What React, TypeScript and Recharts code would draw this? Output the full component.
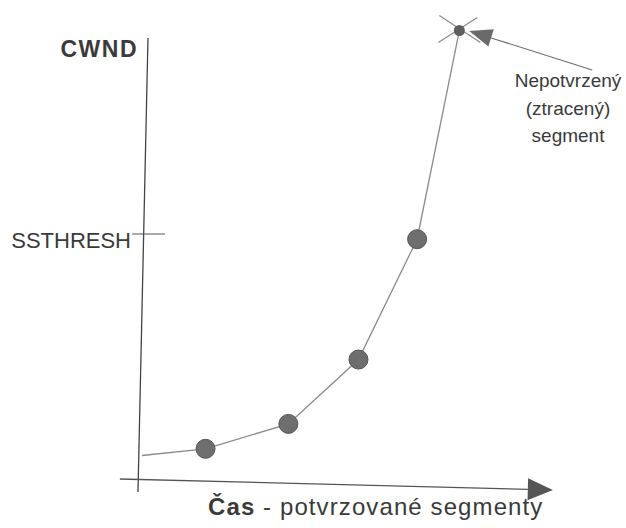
import { ComposedChart, Line, XAxis, YAxis, ReferenceLine } from 'recharts'

// congestion window during slow start (units are arbitrary)
const time = [-0.8, 15.5, 35.7, 52.8, 67.1, 77.4]
const cwnd = [6.2, 7.7, 13.0, 26.7, 52.3, 96.7]
const marks = ['start', 'ack', 'ack', 'ack', 'ack', 'lost']

const ssthresh = 53.4
const lostNote = ['Nepotvrzený', '(ztracený)', 'segment']

const data = time.map((t, i) => ({ t, cwnd: cwnd[i], mark: marks[i] }))

const ink = '#3a3a3a'
const font = '"Liberation Sans", Arial, sans-serif'

function arrow(len: number, half: number, color: string, width: number) {
  return (p: any) => {
    const { x1, y1, x2, y2 } = p
    const dx = x2 - x1
    const dy = y2 - y1
    const d = Math.hypot(dx, dy) || 1
    const ux = dx / d
    const uy = dy / d
    const bx = x2 - ux * len
    const by = y2 - uy * len
    const pts = `${x2},${y2} ${bx - uy * half},${by + ux * half} ${bx + uy * half},${by - ux * half}`
    return (
      <g>
        <line x1={x1} y1={y1} x2={bx} y2={by} stroke={color} strokeWidth={width} />
        <polygon points={pts} fill={color} />
      </g>
    )
  }
}

function renderDot(props: any) {
  const { cx, cy, payload, index } = props
  if (payload.mark === 'ack') {
    return <circle key={index} cx={cx} cy={cy} r={9.5} fill="#6e6e6e" stroke="#555" strokeWidth={1} />
  }
  if (payload.mark === 'lost') {
    return (
      <g key={index}>
        <line x1={cx - 20} y1={cy - 15} x2={cx + 21} y2={cy + 12} stroke="#8a8a8a" strokeWidth={1.2} />
        <line x1={cx - 21} y1={cy + 12} x2={cx + 18} y2={cy - 13} stroke="#8a8a8a" strokeWidth={1.2} />
        <circle cx={cx} cy={cy} r={5.5} fill="#5e5e5e" />
      </g>
    )
  }
  return <g key={index} />
}

export default function App() {
  return (
    <div style={{ position: 'absolute', left: 0, top: 0, background: '#fff' }}>
      <ComposedChart
        width={626}
        height={528}
        data={data}
        margin={{ top: 15, right: 74, bottom: 43, left: 142 }}
      >
        <XAxis type="number" dataKey="t" domain={[0, 100]} allowDataOverflow hide />
        <YAxis type="number" domain={[0, 100]} allowDataOverflow hide />

        {/* hand drawn axes */}
        <ReferenceLine
          segment={[{ x: 1.46, y: 95.1 }, { x: -0.98, y: -1.5 }]}
          stroke="#444"
          strokeWidth={1.3}
          ifOverflow="visible"
        />
        <ReferenceLine
          segment={[{ x: -5.4, y: 1.28 }, { x: 100.2, y: -1.06 }]}
          ifOverflow="visible"
          shape={arrow(25, 11, '#555', 1.3)}
        />
        <ReferenceLine
          segment={[{ x: -2.4, y: ssthresh }, { x: 5.6, y: ssthresh }]}
          stroke="#555"
          strokeWidth={1.2}
          ifOverflow="visible"
        />
        <ReferenceLine
          segment={[{ x: 109.8, y: 88.3 }, { x: 79.8, y: 96.6 }]}
          ifOverflow="visible"
          shape={arrow(23, 9, '#6a6a6a', 1.1)}
        />

        <Line
          type="linear"
          dataKey="cwnd"
          stroke="#8a8a8a"
          strokeWidth={1.3}
          dot={renderDot}
          activeDot={false}
          isAnimationActive={false}
        />

        <text x={138} y={57} textAnchor="end" fontFamily={font} fontSize={23} fontWeight="bold" fill={ink} letterSpacing={1.5}>
          CWND
        </text>
        <text x={131} y={248} textAnchor="end" fontFamily={font} fontSize={22} fill={ink}>
          SSTHRESH
        </text>
        {lostNote.map((s, i) => (
          <text key={s} x={568} y={87 + i * 27.5} textAnchor="middle" fontFamily={font} fontSize={19} fill={ink}>
            {s}
          </text>
        ))}
        <text x={208} y={515} fontFamily={font} fontSize={24} fill={ink} letterSpacing={1.1}>
          <tspan fontWeight="bold">Čas</tspan>
          <tspan> - potvrzované segmenty</tspan>
        </text>
      </ComposedChart>
    </div>
  )
}
